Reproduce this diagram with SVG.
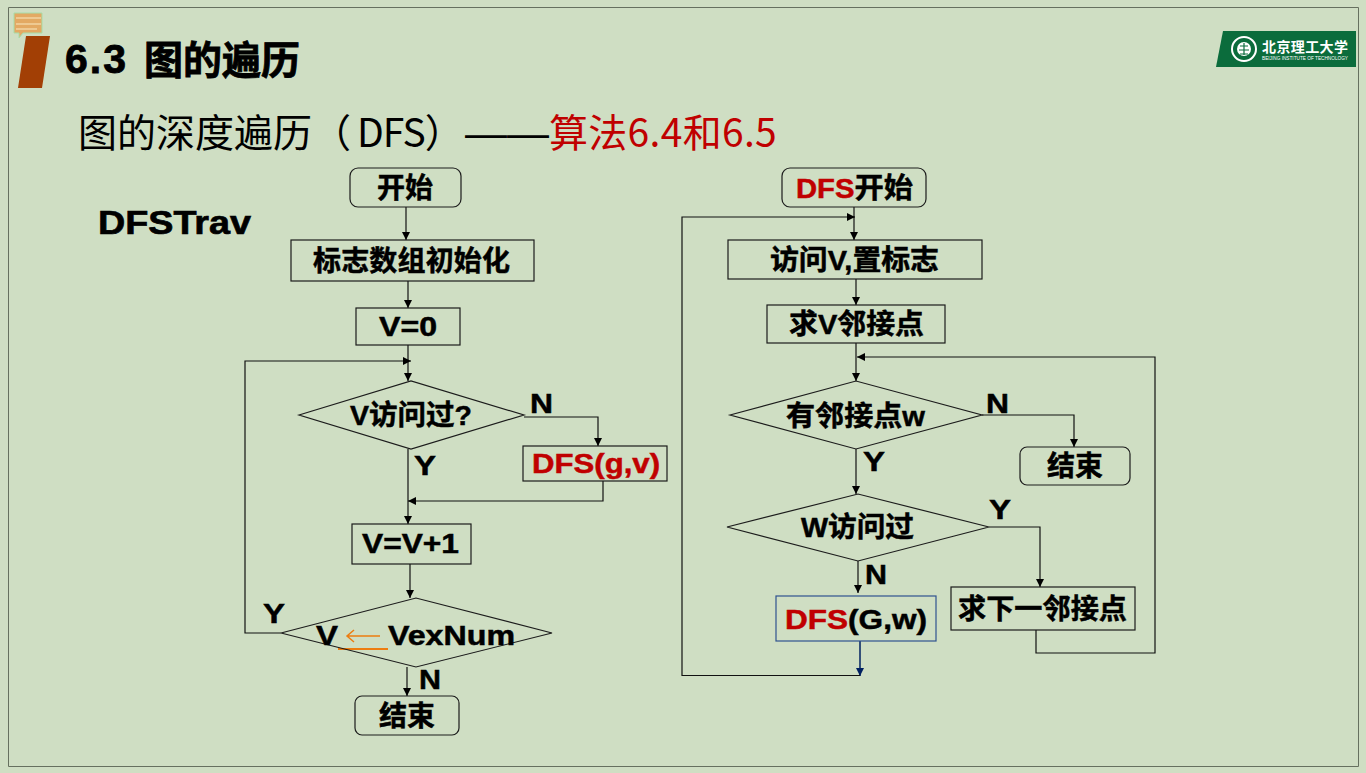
<svg xmlns="http://www.w3.org/2000/svg" width="1366" height="773" viewBox="0 0 1366 773">
<defs>
<marker id="a" markerUnits="userSpaceOnUse" markerWidth="9" markerHeight="9" refX="8" refY="4" orient="auto"><path d="M0,0L8,4L0,8Z" fill="#000"/></marker>
<marker id="b" markerUnits="userSpaceOnUse" markerWidth="9" markerHeight="9" refX="8" refY="4" orient="auto"><path d="M0,0L8,4L0,8Z" fill="#002060"/></marker>
</defs>
<style>
text{font-family:"Liberation Sans","Noto Sans CJK SC",sans-serif;}
.n{fill:none;stroke:#1c1c1c;stroke-width:1.200}
.c{fill:none;stroke:#111;stroke-width:1.200}
.t,.l{font-size:28px;font-weight:700;fill:#000;stroke:#000;stroke-width:.5}
.r{fill:#c00000;stroke:#c00000}
</style>
<rect width="1366" height="773" fill="#cfdec3"/>
<path d="M8.500 7.500H1358.500V766.500H8.500Z" fill="none" stroke="#66705f" stroke-width="1"/>
<g id="decor">
<path d="M14 13h28v20h-19l-4 5v-5h-5z" fill="#e3a963" stroke="#a8dca8" stroke-width="1"/>
<path d="M16 18h25M16 24h25M16 29h21" stroke="#f2d3a2" stroke-width="1.500"/>
<path d="M26 36H50L42 88H18Z" fill="#a23f05"/>
<path d="M1223 31H1356V67H1216Z" fill="#0b6c3c"/>
<circle cx="1244" cy="49" r="12" fill="none" stroke="#fff" stroke-width="2"/>
<circle cx="1244" cy="49" r="7" fill="#fff"/>
<path d="M1244 43V55M1240 46H1248M1239 50H1249M1240 54H1248" stroke="#0b6c3c" stroke-width="1.200"/>
<text x="1262" y="52" font-size="14" font-weight="700" fill="#fff" textLength="86" style="font-family:'Noto Sans CJK SC',sans-serif">北京理工大学</text>
<text x="1262" y="60" font-size="5" fill="#fff" textLength="86" lengthAdjust="spacingAndGlyphs">BEIJING INSTITUTE OF TECHNOLOGY</text>
</g>
<text x="65" y="73" font-size="39" font-weight="700" stroke="#000" stroke-width=".8"><tspan font-size="41" letter-spacing="2">6.3</tspan> <tspan x="144" y="74">图的遍历</tspan></text>
<text x="78" y="147" font-size="39" style="font-family:'Noto Sans CJK SC',sans-serif">图的深度遍历（<tspan x="357" letter-spacing="-1">DFS</tspan>）<tspan x="465" font-size="42" style="font-family:'Liberation Sans',sans-serif">——</tspan><tspan x="549" fill="#c00000" letter-spacing=".3">算法6.4和6.5</tspan></text>
<text x="98" y="234" font-size="34" font-weight="700" stroke="#000" stroke-width=".7" textLength="153" lengthAdjust="spacingAndGlyphs">DFSTrav</text>

<g id="connectors">
<path class="c" marker-end="url(#a)" d="M406 207V240"/>
<path class="c" marker-end="url(#a)" d="M408 281V308"/>
<path class="c" marker-end="url(#a)" d="M408 345V381"/>
<path class="c" marker-end="url(#a)" d="M408 449V524"/>
<path class="c" marker-end="url(#a)" d="M524 417H598V446"/>
<path class="c" marker-end="url(#a)" d="M603 481V501H408"/>
<path class="c" marker-end="url(#a)" d="M410 564V598"/>
<path class="c" marker-end="url(#a)" d="M281 633H245V361H411"/>
<path class="c" marker-end="url(#a)" d="M407 667V696"/>
<path class="c" marker-end="url(#a)" d="M854 207V240"/>
<path class="c" marker-end="url(#a)" d="M856 279V305"/>
<path class="c" marker-end="url(#a)" d="M856 343V381"/>
<path class="c" marker-end="url(#a)" d="M856 449V494"/>
<path class="c" marker-end="url(#a)" d="M982 415H1074V447"/>
<path class="c" marker-end="url(#a)" d="M989 527H1040V587"/>
<path class="c" marker-end="url(#a)" d="M858 561V593"/>
<path class="c" marker-end="url(#a)" d="M1036 630V653H1155V357H857"/>
<path d="M860 641V676" fill="none" stroke="#002060" stroke-width="1.500" marker-end="url(#b)"/>
<path class="c" marker-end="url(#a)" d="M860 675.500H682V217H855"/>
<path d="M338 649H388" stroke="#ed7d11" stroke-width="2" fill="none"/>
<path d="M380 636H348M354 630L347 636L354 642" stroke="#ed7d11" stroke-width="1.500" fill="none"/>
</g>

<g id="start1"><rect class="n" x="350" y="168" width="111" height="39" rx="8"/><text class="t" x="377" y="198" textLength="56">开始</text></g>
<g id="init"><rect class="n" x="291" y="240" width="243" height="41"/><text class="t" x="313" y="271" textLength="197">标志数组初始化</text></g>
<g id="v0"><rect class="n" x="356" y="308" width="104" height="37"/><text class="t" x="379" y="336" textLength="58" lengthAdjust="spacingAndGlyphs">V=0</text></g>
<g id="visited"><path class="n" d="M299,415L411,381L524,415L411,449Z"/><text class="t" x="350" y="425" textLength="122" lengthAdjust="spacingAndGlyphs">V访问过?</text></g>
<g id="dfs1"><rect class="n" x="523" y="446" width="144" height="35"/><text class="t r" x="532" y="473" textLength="128" lengthAdjust="spacingAndGlyphs">DFS(g,v)</text></g>
<g id="inc"><rect class="n" x="352" y="524" width="119" height="40"/><text class="t" x="362" y="553" textLength="97" lengthAdjust="spacingAndGlyphs">V=V+1</text></g>
<g id="cmp"><path class="n" d="M281,633L416,598L552,633L416,667Z"/><text class="l" x="316" y="645" textLength="22" lengthAdjust="spacingAndGlyphs">V</text><text class="l" x="388" y="645" textLength="127" lengthAdjust="spacingAndGlyphs">VexNum</text></g>
<g id="end1"><rect class="n" x="355" y="696" width="104" height="39" rx="7"/><text class="t" x="379" y="726" textLength="56">结束</text></g>

<g id="start2"><rect class="n" x="782" y="168" width="144" height="39" rx="8"/><text class="t" x="796" y="198" textLength="117" lengthAdjust="spacingAndGlyphs"><tspan class="r">DFS</tspan>开始</text></g>
<g id="visit"><rect class="n" x="728" y="240" width="254" height="39"/><text class="t" x="770" y="270" textLength="169" lengthAdjust="spacingAndGlyphs">访问V,置标志</text></g>
<g id="adj"><rect class="n" x="767" y="305" width="178" height="38"/><text class="t" x="789" y="334" textLength="135" lengthAdjust="spacingAndGlyphs">求V邻接点</text></g>
<g id="has"><path class="n" d="M730,415L856,381L982,415L856,449Z"/><text class="t" x="786" y="426" textLength="139" lengthAdjust="spacingAndGlyphs">有邻接点w</text></g>
<g id="end2"><rect class="n" x="1020" y="447" width="110" height="38" rx="7"/><text class="t" x="1047" y="476" textLength="56">结束</text></g>
<g id="wvisited"><path class="n" d="M727,527L858,494L989,527L858,561Z"/><text class="t" x="801" y="537" textLength="113" lengthAdjust="spacingAndGlyphs">W访问过</text></g>
<g id="next"><rect class="n" x="951" y="587" width="184" height="43"/><text class="t" x="958" y="619" textLength="169" lengthAdjust="spacingAndGlyphs">求下一邻接点</text></g>
<g id="dfs2"><rect x="776" y="596" width="160" height="45" fill="none" stroke="#2f528f" stroke-width="1.200"/><text class="t" x="785" y="629" textLength="142" lengthAdjust="spacingAndGlyphs"><tspan class="r">DFS</tspan>(G,w)</text></g>

<g id="labels">
<text class="l" x="530" y="413" textLength="23" lengthAdjust="spacingAndGlyphs">N</text>
<text class="l" x="414" y="475" textLength="22" lengthAdjust="spacingAndGlyphs">Y</text>
<text class="l" x="263" y="623" textLength="22" lengthAdjust="spacingAndGlyphs">Y</text>
<text class="l" x="419" y="689" textLength="22" lengthAdjust="spacingAndGlyphs">N</text>
<text class="l" x="986" y="413" textLength="23" lengthAdjust="spacingAndGlyphs">N</text>
<text class="l" x="863" y="471" textLength="22" lengthAdjust="spacingAndGlyphs">Y</text>
<text class="l" x="989" y="519" textLength="22" lengthAdjust="spacingAndGlyphs">Y</text>
<text class="l" x="865" y="584" textLength="22" lengthAdjust="spacingAndGlyphs">N</text>
</g>
</svg>
